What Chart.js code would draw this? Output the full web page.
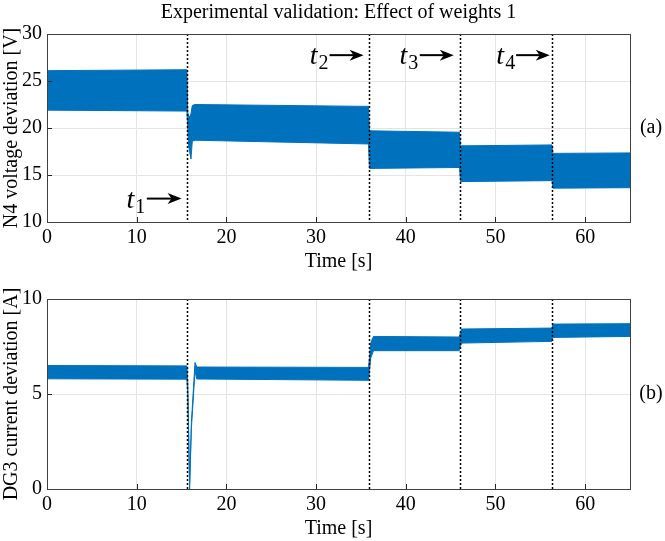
<!DOCTYPE html>
<html><head><meta charset="utf-8">
<script src="https://cdn.jsdelivr.net/npm/chart.js@4"></script>
<style>
body{margin:0;background:#fff;width:665px;height:541px;overflow:hidden}
#a{position:absolute;left:0;top:0;width:665px;height:274px}
#b{position:absolute;left:0;top:274px;width:665px;height:267px}
</style></head><body>
<div id="a"><canvas id="ca"></canvas></div>
<div id="b"><canvas id="cb"></canvas></div>
<script>
// ---- data ----
const titleText = 'Experimental validation: Effect of weights 1';
const xTicks = [0, 10, 20, 30, 40, 50, 60];
const voltTicks = [10, 15, 20, 25, 30];
const currTicks = [0, 5, 10];
const eventTimes = [15.66, 35.9, 46.05, 56.35];
const eventNames = ['1', '2', '3', '4'];
const eventLabelX = [8.86, 29.3, 39.3, 50.1];
const eventArrowStart = [11.13, 31.5, 41.56, 52.3];
const eventArrowEnd = [15.0, 35.3, 45.35, 56.05];
const eventArrowY = [12.49, 27.75, 27.75, 27.75];

const voltTime  = [0, 15.6, 15.7, 15.8, 15.9, 16.05, 16.2, 16.5, 35.85, 35.95, 46.0, 46.1, 56.3, 56.4, 65];
const voltUpper = [26.1, 26.2, 21.6, 21.3, 21.2, 21.5, 22.4, 22.5, 22.3, 19.7, 19.55, 18.1, 18.2, 17.3, 17.35];
const voltLower = [21.9, 21.8, 19.8, 18.0, 17.5, 16.7, 18.6, 18.7, 18.3, 15.7, 15.8, 14.3, 14.4, 13.6, 13.65];

const currTime  = [0, 15.6, 15.7, 15.9, 16.1, 16.5, 16.7, 35.85, 36.1, 36.4, 45.95, 46.2, 56.3, 56.4, 65];
const currUpper = [6.5, 6.48, 5.5, 0.3, 3.5, 6.66, 6.42, 6.4, 7.7, 8.03, 8.0, 8.42, 8.47, 8.68, 8.7];
const currLower = [5.8, 5.78, 4.8, 0.0, 3.2, 6.2, 5.79, 5.72, 6.9, 7.28, 7.28, 7.68, 7.77, 7.98, 8.03];

// ---- style ----
const FONT = "'Liberation Serif', 'DejaVu Serif', serif";
const FS = 20;
const BLUE = '#0072BD';

function pts(xs, ys) { return xs.map((x, i) => ({x: x, y: ys[i]})); }

function makeDecor(opts) {
  return {
    id: 'decor',
    afterDatasetsDraw(chart) {
      const ctx = chart.ctx, a = chart.chartArea;
      const xs = chart.scales.x, ys = chart.scales.y;
      ctx.save();
      // dotted event lines
      ctx.strokeStyle = '#000'; ctx.lineWidth = 1.5; ctx.setLineDash([2, 2]);
      eventTimes.forEach(t => {
        const px = Math.round(xs.getPixelForValue(t)) + 0.5;
        ctx.beginPath(); ctx.moveTo(px, a.top); ctx.lineTo(px, a.bottom); ctx.stroke();
      });
      ctx.setLineDash([]);
      // inward ticks
      ctx.strokeStyle = '#262626'; ctx.lineWidth = 1;
      xs.ticks.forEach(tk => {
        const px = Math.round(xs.getPixelForValue(tk.value)) + 0.5;
        ctx.beginPath(); ctx.moveTo(px, a.bottom); ctx.lineTo(px, a.bottom - 5); ctx.stroke();
      });
      ys.ticks.forEach(tk => {
        const py = Math.round(ys.getPixelForValue(tk.value)) + 0.5;
        ctx.beginPath(); ctx.moveTo(a.left, py); ctx.lineTo(a.left + 5, py); ctx.stroke();
      });
      // box
      ctx.strokeStyle = '#404040'; ctx.lineWidth = 1;
      ctx.strokeRect(Math.round(a.left) + 0.5, Math.round(a.top) + 0.5,
                     Math.round(a.right - a.left), Math.round(a.bottom - a.top));
      // side label
      ctx.fillStyle = '#000'; ctx.font = FS + 'px ' + FONT;
      ctx.textAlign = 'center'; ctx.textBaseline = 'middle';
      ctx.fillText(opts.side, 651, (a.top + a.bottom) / 2);
      if (opts.title) {
        ctx.font = FS + 'px ' + FONT;
        ctx.fillText(opts.title, (a.left + a.right) / 2, 13);
      }
      if (opts.annot) {
        eventNames.forEach((n, i) => {
          const y = ys.getPixelForValue(eventArrowY[i]);
          const tx = xs.getPixelForValue(eventLabelX[i]);
          const x1 = xs.getPixelForValue(eventArrowStart[i]);
          const x2 = xs.getPixelForValue(eventArrowEnd[i]);
          ctx.fillStyle = '#000';
          ctx.textAlign = 'left'; ctx.textBaseline = 'alphabetic';
          ctx.font = 'italic 28px ' + FONT;
          ctx.fillText('t', tx, y + 9);
          const tw = ctx.measureText('t').width;
          ctx.font = '20px ' + FONT;
          ctx.fillText(n, tx + tw + 1, y + 14);
          // arrow
          ctx.strokeStyle = '#000'; ctx.lineWidth = 2;
          ctx.beginPath(); ctx.moveTo(x1, y); ctx.lineTo(x2 - 8, y); ctx.stroke();
          ctx.beginPath();
          ctx.moveTo(x2, y); ctx.lineTo(x2 - 14, y - 5.5); ctx.lineTo(x2 - 10, y);
          ctx.lineTo(x2 - 14, y + 5.5); ctx.closePath(); ctx.fill();
        });
      }
      ctx.restore();
    }
  };
}

function makeChart(id, time, up, lo, yMin, yMax, yTicks, yLabel, layout, xAxisH, xTitlePad, decor) {
  return new Chart(document.getElementById(id), {
    type: 'line',
    data: {
      datasets: [
        {data: pts(time, up), borderColor: BLUE, backgroundColor: BLUE, borderWidth: 1,
         pointRadius: 0, fill: '+1', tension: 0},
        {data: pts(time, lo), borderColor: BLUE, backgroundColor: BLUE, borderWidth: 1,
         pointRadius: 0, fill: false, tension: 0}
      ]
    },
    options: {
      responsive: true, maintainAspectRatio: false, animation: false,
      layout: {padding: layout},
      plugins: {legend: {display: false}, tooltip: {enabled: false}},
      scales: {
        x: {
          type: 'linear', min: 0, max: 65,
          afterBuildTicks: s => { s.ticks = xTicks.map(v => ({value: v})); },
          afterFit: s => { s.height = xAxisH; },
          grid: {color: '#e4e4e4', lineWidth: 1, drawTicks: false},
          border: {display: false},
          ticks: {color: '#000', font: {family: FONT, size: FS}, padding: 4, maxRotation: 0},
          title: {display: true, text: 'Time [s]', color: '#000',
                  font: {family: FONT, size: FS}, padding: {top: 0, bottom: xTitlePad}}
        },
        y: {
          min: yMin, max: yMax,
          afterBuildTicks: s => { s.ticks = yTicks.map(v => ({value: v})); },
          afterFit: s => { s.width = 47; },
          grid: {color: '#e4e4e4', lineWidth: 1, drawTicks: false},
          border: {display: false},
          ticks: {color: '#000', font: {family: FONT, size: FS}, padding: 5},
          title: {display: true, text: yLabel, color: '#000',
                  font: {family: FONT, size: FS}, padding: {top: 0, bottom: 0}}
        }
      }
    },
    plugins: [makeDecor(decor)]
  });
}

makeChart('ca', voltTime, voltUpper, voltLower, 10, 30, voltTicks, 'N4 voltage deviation [V]',
  {left: 0, right: 35, top: 34, bottom: 0}, 52, 0, {side: '(a)', title: titleText, annot: true});
makeChart('cb', currTime, currUpper, currLower, 0, 10, currTicks, 'DG3 current deviation [A]',
  {left: 0, right: 35, top: 25, bottom: 0}, 52, 0, {side: '(b)', title: null, annot: false});
</script>
</body></html>
